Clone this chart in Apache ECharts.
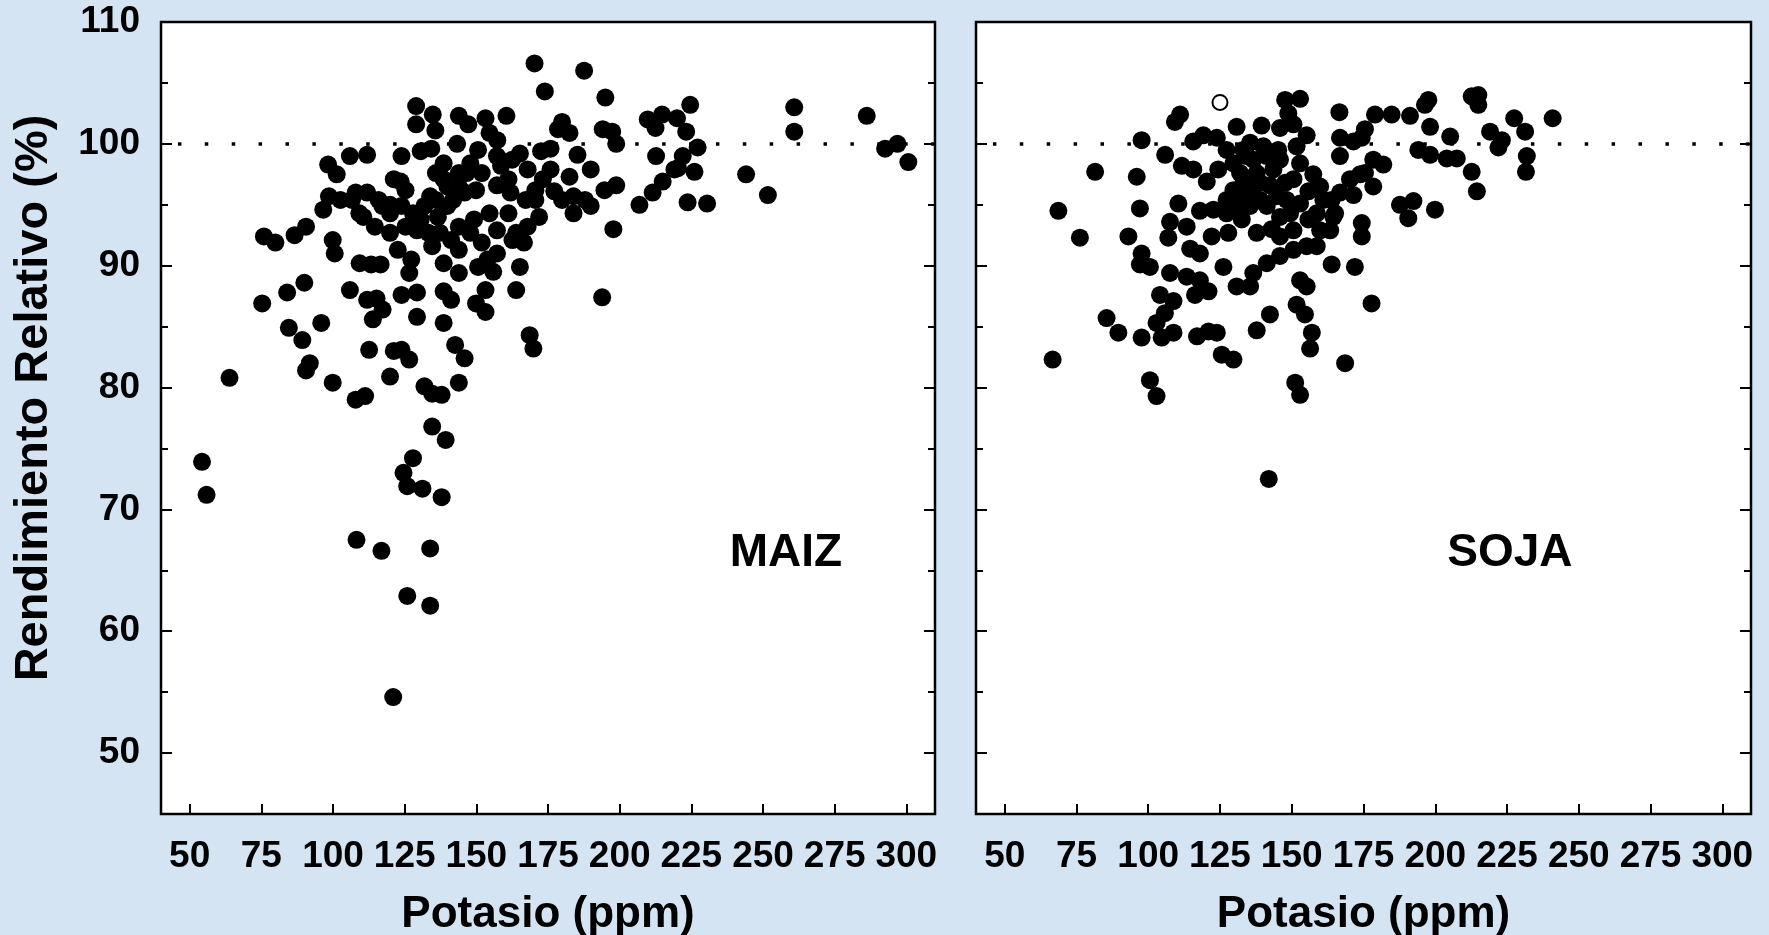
<!DOCTYPE html>
<html>
<head>
<meta charset="utf-8">
<script src="https://cdn.jsdelivr.net/npm/echarts@6/dist/echarts.min.js"></script>
<style>
html,body{margin:0;padding:0;background:#d5e4f3;}
#main{width:1769px;height:935px;}
</style>
</head>
<body>
<div id="main"></div>
<script>
// ---- data ----
const xTicks = [50, 75, 100, 125, 150, 175, 200, 225, 250, 275, 300];
const yMajorTicks = [50, 60, 70, 80, 90, 100, 110];
const yMinorTicks = [55, 65, 75, 85, 95, 105];
const refLineValue = 100;
const xTitle = 'Potasio (ppm)';
const yTitle = 'Rendimiento Relativo (%)';
const panelNames = ['MAIZ', 'SOJA'];
const panelNamePos = [[258, 66.4], [226, 66.4]];

const maizPoints = [
[170.3,106.6],[187.6,106.0],[173.9,104.3],[129.0,103.1],[129.0,101.6],[134.8,102.4],[135.7,101.1],[143.9,102.3],
[147.2,101.6],[153.2,102.1],[160.5,102.3],[179.9,101.8],[178.5,101.2],[182.5,100.9],[143.3,100.0],[154.6,100.9],
[157.3,100.3],[165.2,99.2],[172.6,99.4],[175.9,99.6],[185.3,99.1],[123.9,99.0],[130.6,99.4],[134.3,99.6],
[111.9,99.1],[105.9,99.0],[98.3,98.3],[101.3,97.5],[121.2,97.1],[123.6,96.9],[138.6,98.4],[147.9,98.4],
[175.9,97.9],[182.5,97.3],[189.9,97.9],[189.9,94.9],[183.9,95.7],[177.2,96.1],[167.2,95.4],[161.9,96.0],
[157.2,96.6],[149.9,96.2],[143.9,96.5],[138.6,97.1],[135.9,95.4],[131.9,94.9],[127.9,94.3],[123.9,94.9],
[119.9,95.0],[125.3,93.2],[129.3,92.9],[134.6,91.6],[138.6,90.2],[143.9,89.4],[141.2,92.1],[143.9,93.2],
[149.2,93.8],[154.6,94.3],[157.2,92.9],[151.9,91.9],[157.2,91.0],[150.6,89.9],[155.9,89.5],[163.9,92.7],
[167.9,93.2],[171.9,94.0],[166.6,91.9],[165.2,89.9],[163.9,88.0],[153.2,88.0],[149.9,86.9],[153.2,86.2],
[138.6,87.9],[141.2,87.2],[138.6,85.3],[142.6,83.5],[145.9,82.4],[143.9,80.4],[131.9,80.1],[134.6,79.5],
[137.9,79.4],[134.6,76.8],[139.3,75.7],[127.9,74.2],[129.3,85.8],[129.3,87.8],[123.9,87.6],[127.3,90.5],
[126.6,89.4],[122.6,91.3],[119.9,92.7],[114.6,93.2],[110.6,94.0],[111.9,96.0],[107.9,96.0],[102.6,95.4],
[98.6,95.7],[96.6,94.6],[99.9,92.1],[100.6,91.0],[109.3,90.2],[113.3,90.1],[116.6,90.1],[105.9,88.0],
[111.9,87.2],[115.2,87.3],[113.9,85.6],[117.3,86.4],[123.9,83.1],[121.2,83.0],[126.6,82.3],[112.6,83.1],
[119.9,80.9],[107.9,79.0],[111.2,79.3],[99.9,80.4],[91.9,82.0],[90.6,81.4],[89.3,83.9],[84.6,84.9],
[95.9,85.3],[84.0,87.8],[90.0,88.6],[75.3,86.9],[63.9,80.8],[54.3,73.9],[75.9,92.4],[79.9,91.9],
[86.6,92.5],[90.6,93.2],[153.9,90.5],
[133.9,95.7],[139.9,94.9],[136.6,94.0],[141.9,95.4],[145.9,96.0],[139.9,96.5],[135.9,97.6],[125.3,96.2],
[119.9,94.3],[117.2,94.9],[109.2,94.3],[106.6,95.4],[115.9,95.4],[130.6,93.8],[133.3,92.7],[137.3,92.7],
[143.9,91.3],[147.9,92.7],[161.2,94.3],[162.6,92.1],[170.6,95.4],[173.2,97.1],[179.9,95.4],[183.9,94.3],
[187.9,95.4],[162.5,98.7],[157.2,99.0],[150.6,99.5],[158.6,98.2],[167.9,97.9],[151.9,97.6],[146.6,97.6],
[143.9,97.6],[161.2,97.1],[170.6,96.2],[168.6,84.3],[169.9,83.2],
[55.9,71.2],[124.6,73.0],[125.9,71.9],[131.2,71.7],[137.9,71.0],[108.2,67.5],[116.9,66.6],[133.9,66.8],
[125.9,62.9],[133.9,62.1],[121.0,54.6],
[195.0,103.8],[194.1,101.2],[197.4,101.0],[198.8,100.0],[194.7,96.2],[198.8,96.6],[197.8,93.0],[193.9,87.4],
[206.9,95.0],[211.5,96.0],[215.0,96.9],[212.7,99.0],[209.8,102.0],[212.5,101.3],[214.8,102.4],[220.0,102.1],
[223.2,101.0],[224.6,103.2],[227.2,99.7],[222.0,99.0],[220.3,98.0],[226.1,97.7],[223.7,95.2],[230.5,95.1],
[244.1,97.5],[251.7,95.8],[260.9,103.0],[260.9,101.0],[286.2,102.3],[292.6,99.6],[296.9,100.0],[300.7,98.5],
[219.1,97.9]
];

const sojaPoints = [
[147.7,103.6],[152.9,103.7],[148.8,102.5],[166.6,102.6],[179.0,102.4],[111.1,102.4],[109.3,101.8],[97.7,100.3],
[115.7,100.2],[119.2,100.7],[123.9,100.5],[130.8,101.4],[139.5,101.5],[145.9,101.3],[150.6,101.6],[155.2,100.7],
[166.8,100.5],[171.5,100.2],[175.5,101.2],[166.8,99.0],[105.9,99.1],[111.7,98.2],[115.7,97.9],[120.4,96.9],
[124.4,97.9],[129.7,98.4],[134.3,99.0],[137.8,97.6],[143.6,97.9],[147.7,96.8],[152.9,98.4],[157.5,97.5],
[155.8,96.1],[152.9,95.1],[149.4,94.3],[145.9,94.0],[166.8,96.0],[170.3,97.1],[173.8,97.5],[178.4,98.7],
[178.4,96.5],[171.5,95.8],[164.5,94.0],[159.9,92.9],[155.2,91.6],[150.6,91.3],[145.9,90.8],[141.3,90.2],
[136.6,89.4],[130.8,88.3],[135.5,88.3],[152.9,88.8],[155.2,88.3],[158.7,91.6],[163.9,90.1],[172.0,89.9],
[174.4,93.5],[174.4,92.4],[177.8,86.9],[168.6,82.0],[151.2,80.4],[152.9,79.4],[151.7,86.8],[154.6,86.0],
[157.0,84.5],[156.4,83.2],[142.4,86.0],[137.8,84.7],[129.7,82.3],[125.6,82.7],[123.9,84.5],[121.0,84.6],
[117.0,84.2],[108.8,84.5],[104.7,84.1],[102.9,85.3],[105.8,86.1],[108.8,87.1],[104.1,87.6],[100.6,80.6],
[102.9,79.3],[97.7,84.1],[89.6,84.5],[85.5,85.7],[66.7,82.3],[68.7,94.5],[76.2,92.3],[81.5,97.7],
[93.1,92.4],[96.0,97.3],[97.1,94.7],[97.7,91.0],[97.1,90.1],[100.6,89.9],[107.0,92.3],[110.5,95.1],
[107.6,93.6],[113.4,93.2],[114.6,91.4],[118.0,91.0],[122.1,92.4],[126.2,89.9],[127.9,92.7],[118.0,94.5],
[122.7,94.6],[127.3,94.3],[132.6,93.8],[137.8,92.7],[143.0,93.0],[107.6,89.4],[113.4,89.1],[118.0,88.8],
[116.3,87.6],[121.0,87.9],[163.9,95.4],[165.1,94.3],[133.1,96.8],[129.7,96.2],[127.3,95.4],[136.6,96.5],
[139.0,95.4],[142.4,96.6],[135.5,94.9],[133.1,99.5],[140.1,99.8],[145.3,99.5],[151.7,99.8],
[127.3,99.5],[135.5,100.1],[141.3,99.0],[145.9,98.7],[136.6,98.7],[132.0,97.6],[139.0,96.8],[144.8,95.7],
[134.3,95.7],[130.8,94.9],[141.3,94.9],[148.2,95.4],[150.6,97.1],[159.9,96.5],[161.0,95.4],[158.7,94.3],
[155.8,93.8],[150.6,92.9],[145.9,92.4],[163.4,92.9],
[174.4,100.5],[184.8,102.4],[191.2,102.3],[197.6,103.6],[196.4,103.2],[198.2,101.4],[205.2,100.6],[212.7,103.9],
[215.0,104.0],[215.0,103.2],[219.1,101.0],[223.2,100.3],[222.0,99.7],[227.5,102.1],[231.3,101.0],[231.9,99.0],
[231.6,97.7],[240.9,102.1],[194.1,99.5],[198.2,99.1],[204.0,98.8],[207.5,98.8],[212.7,97.7],[214.5,96.1],
[181.9,98.3],[175.5,97.6],[187.7,95.0],[192.4,95.3],[190.6,93.9],[199.9,94.6],
[142.0,72.5]
];
const sojaOpenPoints = [[125.0,103.4]];

// ---- chart ----
const FONT = "'Liberation Sans', Arial, sans-serif";
const chart = echarts.init(document.getElementById('main'));

const grids = [
  {left: 161, top: 22, width: 774, height: 792},
  {left: 976, top: 22, width: 775, height: 792}
];

const xAxes = [], yAxes = [];
grids.forEach((g, i) => {
  xAxes.push({
    gridIndex: i, type: 'value', min: 40, max: 310, position: 'bottom',
    axisLine: {show: false},
    axisTick: {show: true, inside: true, length: 10, customValues: xTicks,
      lineStyle: {color: '#000', width: 2}},
    axisLabel: {show: true, customValues: xTicks, margin: 24, color: '#000',
      fontSize: 37, fontWeight: 'bold', fontFamily: FONT},
    splitLine: {show: false},
    name: xTitle, nameLocation: 'middle', nameGap: 79,
    nameTextStyle: {fontSize: 44, fontWeight: 'bold', color: '#000', fontFamily: FONT}
  });
  const mk = (pos, vals, len, labels) => ({
    gridIndex: i, type: 'value', min: 45, max: 110, position: pos,
    axisLine: {show: false},
    axisTick: {show: true, inside: true, length: len, customValues: vals,
      lineStyle: {color: '#000', width: 2}},
    axisLabel: labels ? {show: true, customValues: vals, margin: 21, color: '#000',
      fontSize: 37, fontWeight: 'bold', fontFamily: FONT} : {show: false},
    splitLine: {show: false}
  });
  yAxes.push(mk('left', yMajorTicks, 11, i === 0));
  yAxes.push(mk('left', yMinorTicks, 7, false));
  yAxes.push(mk('right', yMajorTicks, 11, false));
  yAxes.push(mk('right', yMinorTicks, 7, false));
});

const refLine = {
  silent: true, symbol: ['none', 'none'], label: {show: false},
  lineStyle: {color: '#000', width: 3.5, type: [3.5, 23.4], dashOffset: 10, opacity: 1},
  emphasis: {disabled: true},
  data: [{yAxis: refLineValue}]
};

chart.setOption({
  animation: false,
  backgroundColor: '#d5e4f3',
  grid: grids.map(g => Object.assign({show: true, backgroundColor: '#fff',
    borderColor: '#000', borderWidth: 2.5, containLabel: false, outerBoundsMode: 'none'}, g)),
  xAxis: xAxes,
  yAxis: yAxes,
  series: [
    {type: 'scatter', xAxisIndex: 0, yAxisIndex: 0, data: maizPoints, symbol: 'circle',
      symbolSize: 18, itemStyle: {color: '#000', opacity: 1}, markLine: refLine, z: 3},
    {type: 'scatter', xAxisIndex: 1, yAxisIndex: 4, data: sojaPoints, symbol: 'circle',
      symbolSize: 18, itemStyle: {color: '#000', opacity: 1}, markLine: refLine, z: 3},
    {type: 'scatter', xAxisIndex: 1, yAxisIndex: 4, data: sojaOpenPoints, symbol: 'circle',
      symbolSize: 15, itemStyle: {color: '#fff', borderColor: '#000', borderWidth: 2, opacity: 1}, z: 3}
  ]
});

// panel names and y title, placed through the library's own coordinate conversion
const labelGraphics = panelNames.map((name, i) => {
  const p = chart.convertToPixel({xAxisIndex: i, yAxisIndex: i * 4}, panelNamePos[i]);
  return {
    type: 'text', x: p[0], y: p[1], z: 10,
    style: {text: name, fill: '#000', font: "bold 46px 'Liberation Sans', Arial, sans-serif",
      textAlign: 'center', textVerticalAlign: 'middle'}
  };
});
labelGraphics.push({
  type: 'text', x: 34, y: 398, rotation: Math.PI / 2, z: 10,
  style: {text: yTitle, fill: '#000', font: "bold 47px 'Liberation Sans', Arial, sans-serif",
    textAlign: 'center', textVerticalAlign: 'middle'}
});
chart.setOption({graphic: labelGraphics});
</script>
</body>
</html>
